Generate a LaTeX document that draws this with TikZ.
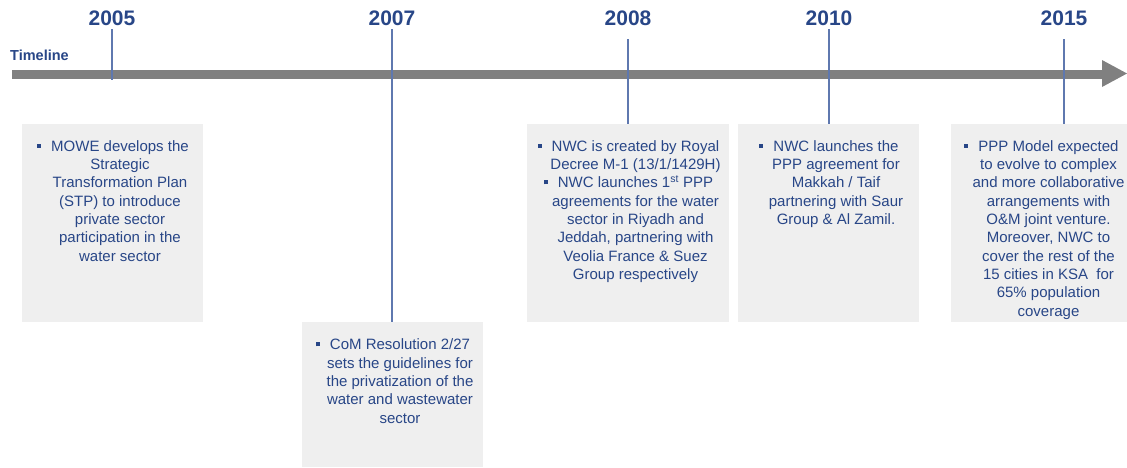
\documentclass[tikz,border=0pt]{standalone}
\usepackage{fontspec}
\setmainfont{Liberation Sans}
\usepackage{tikz}

\definecolor{navy}{RGB}{40,70,135}
\definecolor{tickblue}{RGB}{95,120,175}
\definecolor{bargray}{RGB}{128,128,128}
\definecolor{boxgray}{RGB}{239,239,239}

\newcommand{\bul}{\llap{\raisebox{3.5pt}{\rule{4pt}{4pt}}\hspace{10pt}}}

\tikzset{
  year/.style={font=\fontsize{21pt}{24pt}\selectfont\bfseries, text=navy, inner sep=0pt, anchor=base},
  card/.style={fill=boxgray, draw=none, inner sep=0pt, minimum width=181pt},
  note/.style={font=\fontsize{15pt}{18.3pt}\selectfont, text=navy, align=center, inner sep=0pt, anchor=north},
  tick/.style={draw=tickblue, line width=1.3pt}
}

\begin{document}
\begin{tikzpicture}[x=1pt,y=-1pt]
  \useasboundingbox (0,0) rectangle (1127,467);

  % --------------------
  % Main arrow
  % --------------------
  \node[anchor=base west, inner sep=0pt, text=navy, font=\fontsize{14.5pt}{17pt}\selectfont\bfseries] (title) at (10,60) {Timeline};
  \draw[bargray, line width=9.5pt] (12,74.5) -- (1103,74.5);
  \fill[bargray] (1102,60) -- (1127,73.5) -- (1102,87) -- cycle;

  % --------------------
  % Years
  % --------------------
  \node[year] (y2005) at (112,25) {2005};
  \node[year] (y2007) at (392,25) {2007};
  \node[year] (y2008) at (628,25) {2008};
  \node[year] (y2010) at (829,25) {2010};
  \node[year] (y2015) at (1064,25) {2015};

  % --------------------
  % Grey cards
  % --------------------
  \node[card, minimum height=198pt] (b2005) at (112.5,223) {};
  \node[card, minimum height=145pt] (b2007) at (392.5,394.5) {};
  \node[card, minimum height=198pt, minimum width=202pt] (b2008) at (628,223) {};
  \node[card, minimum height=198pt] (b2010) at (828.5,223) {};
  \node[card, minimum height=198pt, minimum width=176pt] (b2015) at (1039,223) {};

  % Tick lines
  \coordinate (e2005) at (112,80);
  \draw[tick] ([yshift=-4pt]y2005.south) -- (e2005);
  \draw[tick] ([yshift=-4pt]y2007.south) -- (y2007.south |- b2007.north);
  \draw[tick] ([yshift=-14pt]y2008.south) -- (y2008.south |- b2008.north);
  \draw[tick] ([yshift=-4pt]y2010.south) -- (y2010.south |- b2010.north);
  \draw[tick] ([yshift=-14pt]y2015.south) -- (y2015.south |- b2015.north);

  % --------------------
  % Card texts
  % --------------------
  \node[note] (t2005) at ([xshift=7.5pt,yshift=-16.5pt]b2005.north) {\bul MOWE develops the\\Strategic\\Transformation Plan\\(STP) to introduce\\private sector\\participation in the\\water sector};
  \node[note] (t2007) at ([xshift=7.5pt,yshift=-17pt]b2007.north) {\bul CoM Resolution 2/27\\sets the guidelines for\\the privatization of the\\water and wastewater\\sector};
  \node[note] (t2008) at ([xshift=7.5pt,yshift=-16.5pt]b2008.north) {\bul NWC is created by Royal\\Decree M-1 (13/1/1429H)\\\bul NWC launches 1\textsuperscript{st} PPP\\agreements for the water\\sector in Riyadh and\\Jeddah, partnering with\\Veolia France \& Suez\\Group respectively};
  \node[note] (t2010) at ([xshift=7.5pt,yshift=-16.5pt]b2010.north) {\bul NWC launches the\\PPP agreement for\\Makkah / Taif\\partnering with Saur\\Group \& Al Zamil.};
  \node[note] (t2015) at ([xshift=9.5pt,yshift=-16.5pt]b2015.north) {\bul PPP Model expected\\to evolve to complex\\and more collaborative\\arrangements with\\O\&M joint venture.\\Moreover, NWC to\\cover the rest of the\\15 cities in KSA~ for\\65\% population\\coverage};

\end{tikzpicture}
\end{document}
